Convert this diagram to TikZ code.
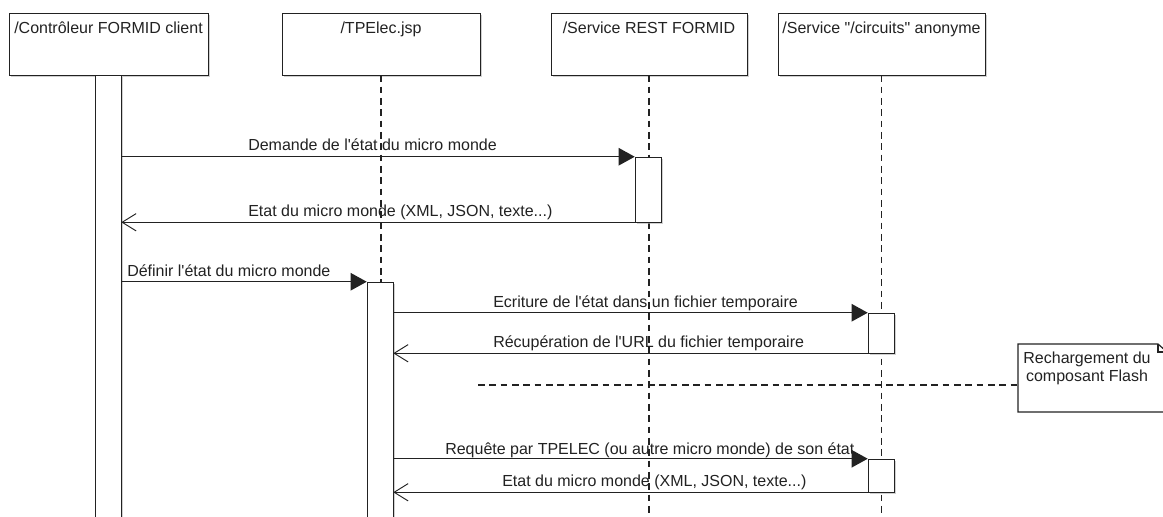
\documentclass[tikz,border=0pt]{standalone}
\usepackage{fontspec}
\setmainfont{Liberation Sans}[Ligatures=TeXReset]
\usetikzlibrary{arrows.meta,shadows}
\definecolor{ink}{HTML}{222222}
\tikzset{
  px/.style={x=0.75pt,y=-0.75pt},
  shad/.style={drop shadow={shadow xshift=1.3pt,shadow yshift=-1.3pt,fill=black!30,opacity=0.6}},
  hdr/.style={draw=ink,fill=white,shad,rectangle,inner sep=0pt,minimum height=46.5pt},
  bar/.style={draw=ink,fill=white,shad,rectangle,inner sep=0pt,minimum width=19.5pt},
  lifeline/.style={draw=ink,line width=0.9pt,dash pattern=on 5pt off 3.5pt},
  call/.style={draw=ink,line width=0.9pt,-{Triangle[length=12pt,width=13pt]}},
  ret/.style={draw=ink,line width=0.8pt,-{Straight Barb[length=10.5pt,width=13pt,line width=0.7pt]}},
  lbl/.style={anchor=base west,inner sep=0pt,font=\fontsize{12}{13}\selectfont,text=ink},
  ttl/.style={anchor=north,inner sep=0pt,yshift=-6.5pt,font=\fontsize{12}{13}\selectfont,text=ink},
  notebox/.style={draw=ink,line width=0.9pt,fill=white},
}
\begin{document}
\begin{tikzpicture}[px]
\useasboundingbox[fill=white] (0,0) rectangle (1163,517);
% lifelines
\coordinate (b2) at (381,519);
\coordinate (b3) at (649,519);
\coordinate (b4) at (881.5,519);
% headers
\node[hdr,minimum width=149.25pt,label={[ttl]north:/Contrôleur FORMID client}] (h1) at (108.5,44) {};
\node[hdr,minimum width=148.5pt,label={[ttl]north:/TPElec.jsp}] (h2) at (381,44) {};
\node[hdr,minimum width=147pt,label={[ttl]north:/Service REST FORMID}] (h3) at (649,44) {};
\node[hdr,minimum width=155.25pt,label={[ttl]north:/Service "/circuits" anonyme}] (h4) at (881.5,44) {};
\draw[lifeline] (h2.south) -- (b2);
\draw[lifeline] (h3.south) -- (b3);
\draw[lifeline] (h4.south) -- (b4);
% activation bars
\node[bar,minimum height=333pt] (a1) at (108,297) {};
\node[bar,minimum height=177.75pt] (a2) at (380,400.5) {};
\node[bar,minimum height=48.75pt] (a3) at (648,189.5) {};
\node[bar,minimum height=30pt] (a4a) at (881,333) {};
\node[bar,minimum height=24.75pt] (a4b) at (881,475.5) {};
% messages
\draw[call] (a1.east |- a3.north) -- (a3.north west);
\node[lbl] (l1) at (248,150) {Demande de l'état du micro monde};
\draw[ret] (a3.south west) -- (a1.east |- a3.south);
\node[lbl] (l2) at (248,216) {Etat du micro monde (XML, JSON, texte...)};
\draw[call] (a1.east |- a2.north) -- (a2.north west);
\node[lbl] (l3) at (127,276) {Définir l'état du micro monde};
\draw[call] (a2.east |- a4a.north) -- (a4a.north west);
\node[lbl] (l4) at (493,307) {Ecriture de l'état dans un fichier temporaire};
\draw[ret] (a4a.south west) -- (a2.east |- a4a.south);
\node[lbl] (l5) at (493,347) {Récupération de l'URL du fichier temporaire};
\draw[call] (a2.east |- a4b.north) -- (a4b.north west);
\node[lbl] (l6) at (445,454) {Requête par TPELEC (ou autre micro monde) de son état};
\draw[ret] (a4b.south west) -- (a2.east |- a4b.south);
\node[lbl] (l7) at (502,486) {Etat du micro monde (XML, JSON, texte...)};
% note
\draw[notebox] (1018,344) -- (1158,344) -- (1167,352) -- (1167,412) -- (1018,412) -- cycle;
\draw[ink,line width=0.9pt] (1158,344) -- (1158,352) -- (1167,352);
\node[align=center,inner sep=0pt,font=\fontsize{12}{13.5}\selectfont,text=ink] (note) at (1087,368) {Rechargement du\\composant Flash};
\coordinate (dstart) at (478,385);
\coordinate (nwest) at (1018,385);
\draw[lifeline] (dstart) -- (nwest);
\end{tikzpicture}
\end{document}
